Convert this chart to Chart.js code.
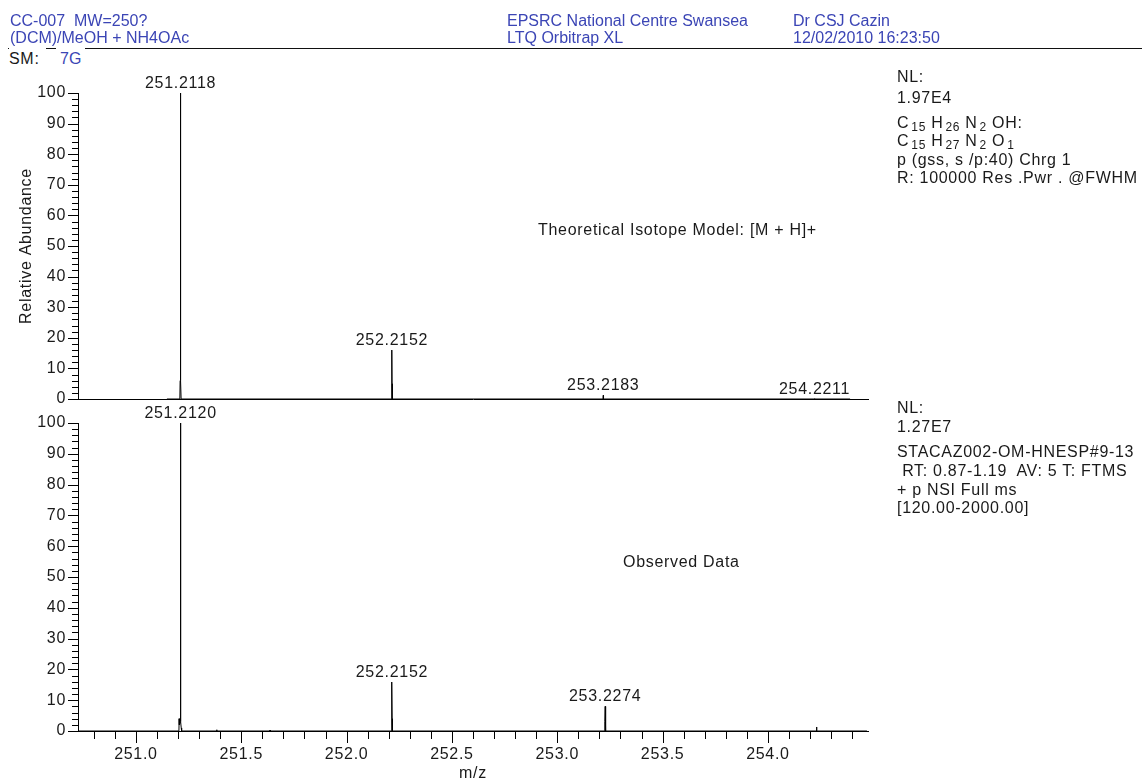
<!DOCTYPE html>
<html>
<head>
<meta charset="utf-8">
<script src="https://cdn.jsdelivr.net/npm/chart.js@4.4.1/dist/chart.umd.min.js"></script>
<style>
  html, body { margin: 0; padding: 0; background: #fff; }
  #page { position: relative; width: 1142px; height: 782px; overflow: hidden;
          font-family: "Liberation Sans", Arial, Helvetica, sans-serif; }
  canvas { position: absolute; left: 0; top: 0; }
  .t { position: absolute; white-space: pre; font-size: 16px; line-height: 16px;
       color: #1a1a1a; letter-spacing: 0.7px; }
  .hd { color: #3b45b5; letter-spacing: 0; }
  .s { font-size: 12px; position: relative; top: 3px; margin-left: 2px; }
  .mask { background: #fff; padding-top: 4px; }
  #rule { position: absolute; left: 8px; top: 48px; width: 1134px; height: 0;
          border-top: 1.5px solid #111; }
</style>
</head>
<body>
<div id="page">
  <canvas id="theo" width="1142" height="782"></canvas>
  <canvas id="obs" width="1142" height="782"></canvas>

  <div class="t hd" style="left:10px;top:13px;">CC-007  MW=250?</div>
  <div class="t hd" style="left:10px;top:30px;">(DCM)/MeOH + NH4OAc</div>
  <div class="t hd" style="left:507px;top:13px;">EPSRC National Centre Swansea</div>
  <div class="t hd" style="left:507px;top:30px;">LTQ Orbitrap XL</div>
  <div class="t hd" style="left:793px;top:13px;">Dr CSJ Cazin</div>
  <div class="t hd" style="left:793px;top:30px;">12/02/2010 16:23:50</div>
  <div id="rule"></div>
  <div class="t mask" style="left:9px;top:47px;padding-right:6px;">SM:</div>
  <div class="t hd mask" style="left:56px;top:47px;padding:4px 4px 0 4px;">7G</div>

  <div class="t" style="left:897px;top:69px;">NL:</div>
  <div class="t" style="left:897px;top:90px;">1.97E4</div>
  <div class="t" style="left:897px;top:115px;">C<span class="s">15</span> H<span class="s">26</span> N<span class="s">2</span> OH:</div>
  <div class="t" style="left:897px;top:133px;">C<span class="s">15</span> H<span class="s">27</span> N<span class="s">2</span> O<span class="s">1</span></div>
  <div class="t" style="left:897px;top:152px;">p (gss, s /p:40) Chrg 1</div>
  <div class="t" style="left:897px;top:170px;">R: 100000 Res .Pwr . @FWHM</div>

  <div class="t" style="left:897px;top:400px;">NL:</div>
  <div class="t" style="left:897px;top:419px;">1.27E7</div>
  <div class="t" style="left:897px;top:444px;">STACAZ002-OM-HNESP#9-13</div>
  <div class="t" style="left:897px;top:463px;"> RT: 0.87-1.19  AV: 5 T: FTMS</div>
  <div class="t" style="left:897px;top:482px;">+ p NSI Full ms</div>
  <div class="t" style="left:897px;top:500px;">[120.00-2000.00]</div>

  <div class="t" style="left:538px;top:222px;">Theoretical Isotope Model: [M + H]+</div>
  <div class="t" style="left:623px;top:554px;">Observed Data</div>
</div>

<script>
// m/z window shared by both panels
const mzMin = 250.725;
const mzMax = 254.475;

// Theoretical isotope profile for [M + H]+ (C15 H27 N2 O1)
const theoMz = [251.1470, 251.2085, 251.2098, 251.2102, 251.2118, 251.2124, 251.2130, 251.2145,
                252.2125, 252.2140, 252.2146, 252.2152, 252.2158, 252.2164, 252.2180,
                253.2170, 253.2183, 253.2196,
                254.2200, 254.2211, 254.2222, 254.3900];
const theoAbund = [0, 0, 6, 32, 100, 32, 6, 0,
                   0, 1, 5, 16.0, 5, 1, 0,
                   0, 1.2, 0,
                   0, 0.1, 0, 0];
const theoPeakMz = [251.2118, 252.2152, 253.2183, 254.2211];
const theoPeakAbund = [100, 16.0, 1.2, 0.1];

// Observed profile spectrum
const obsMz = [250.7300, 251.2040, 251.2052, 251.2062, 251.2112, 251.2117, 251.2120, 251.2123, 251.2128, 251.2150, 251.2170,
               251.3825, 251.3835, 251.3845,
               251.6355, 251.6365, 251.6375,
               252.2120, 252.2135, 252.2142, 252.2152, 252.2162, 252.2170, 252.2185,
               253.2235, 253.2250, 253.2262, 253.2274, 253.2283, 253.2292, 253.2310,
               254.2300, 254.2310, 254.2320,
               254.4700];
const obsAbund = [0, 0, 4.0, 2, 3, 60, 100, 60, 3, 1, 0,
                  0, 0.4, 0,
                  0, 0.3, 0,
                  0, 1, 4, 15.9, 4, 1, 0,
                  0, 1, 3, 8.0, 3, 1, 0,
                  0, 1.3, 0,
                  0];
const obsPeakMz = [251.2120, 252.2152, 253.2274];
const obsPeakAbund = [100, 15.9, 8.0];

// Axis labels
const abundTickLabels = ['0', '10', '20', '30', '40', '50', '60', '70', '80', '90', '100'];
const mzTickLabels = ['251.0', '251.5', '252.0', '252.5', '253.0', '253.5', '254.0'];

const FONT = '"Liberation Sans", Arial, Helvetica, sans-serif';
const INK = '#1a1a1a';

// Canvas text spacing to match the HTML labels
const spacing = {
  id: 'spacing',
  beforeDraw(chart) { chart.ctx.letterSpacing = '0.7px'; }
};

// Major / minor tick marks on both axes
const tickMarks = {
  id: 'tickMarks',
  afterDraw(chart, args, opts) {
    const ctx = chart.ctx;
    ctx.save();
    ctx.strokeStyle = '#000';
    ctx.lineWidth = 1;
    ctx.beginPath();
    const ys = chart.scales.y;
    ys.ticks.forEach(t => {
      const py = Math.round(ys.getPixelForValue(t.value)) + 0.5;
      const len = t.value % 10 === 0 ? 10 : 6;
      ctx.moveTo(ys.right - len, py);
      ctx.lineTo(ys.right, py);
    });
    if (opts.xTicks) {
      const xs = chart.scales.x;
      xs.ticks.forEach(t => {
        const px = Math.round(xs.getPixelForValue(t.value)) + 0.5;
        const major = Math.abs(t.value * 2 - Math.round(t.value * 2)) < 1e-6;
        const len = major ? 12 : 8;
        ctx.moveTo(px, xs.top);
        ctx.lineTo(px, xs.top + len);
      });
    }
    ctx.stroke();
    ctx.restore();
  }
};

// m/z annotations above labelled peaks
const peakLabels = {
  id: 'peakLabels',
  afterDatasetsDraw(chart, args, opts) {
    const ctx = chart.ctx;
    const x = chart.scales.x, y = chart.scales.y;
    ctx.save();
    ctx.font = '16px ' + FONT;
    ctx.fillStyle = INK;
    ctx.textAlign = 'center';
    ctx.textBaseline = 'alphabetic';
    opts.mz.forEach((m, i) => {
      ctx.fillText(m.toFixed(4), x.getPixelForValue(m), y.getPixelForValue(opts.abund[i]) - opts.gap);
    });
    ctx.restore();
  }
};

function points(mz, ab) {
  return mz.map((m, i) => ({ x: m, y: ab[i] }));
}

function makeChart(id, cfg) {
  return new Chart(document.getElementById(id), {
    type: 'line',
    data: {
      datasets: [{
        data: points(cfg.mz, cfg.abund),
        borderColor: '#000',
        borderWidth: 1,
        pointRadius: 0,
        tension: 0,
        fill: false
      }]
    },
    options: {
      responsive: false,
      animation: false,
      devicePixelRatio: 1,
      parsing: false,
      normalized: true,
      layout: { padding: { left: 0, right: 274, top: cfg.top, bottom: cfg.bottom } },
      scales: {
        x: {
          type: 'linear',
          min: mzMin,
          max: mzMax,
          grid: { display: false, drawTicks: false },
          border: { display: true, color: '#000', width: 1 },
          ticks: {
            display: cfg.xLabels,
            stepSize: 0.1,
            includeBounds: false,
            autoSkip: false,
            maxRotation: 0,
            padding: 14,
            color: INK,
            font: { family: FONT, size: 16 },
            callback: v => {
              const s = Number(v).toFixed(1);
              return mzTickLabels.includes(s) ? s : '';
            }
          },
          title: {
            display: cfg.xLabels,
            text: 'm/z',
            color: INK,
            font: { family: FONT, size: 16, lineHeight: 1 },
            padding: { top: 0, bottom: 0 }
          },
          afterFit: s => { s.height = cfg.xHeight; }
        },
        y: {
          type: 'linear',
          min: 0,
          max: 100,
          grid: { display: false, drawTicks: false },
          border: { display: true, color: '#000', width: 1 },
          ticks: {
            stepSize: 2,
            autoSkip: false,
            padding: 12,
            color: INK,
            font: { family: FONT, size: 16 },
            callback: v => abundTickLabels.includes(String(v)) ? String(v) : ''
          },
          title: {
            display: cfg.yTitle,
            text: 'Relative Abundance',
            color: INK,
            font: { family: FONT, size: 16, lineHeight: 1 },
            padding: { top: 19, bottom: 0 }
          },
          afterFit: s => { s.width = 78; }
        }
      },
      plugins: {
        legend: { display: false },
        tooltip: { enabled: false },
        tickMarks: { xTicks: cfg.xLabels },
        peakLabels: { mz: cfg.peakMz, abund: cfg.peakAbund, gap: 5 }
      }
    },
    plugins: [spacing, tickMarks, peakLabels]
  });
}

makeChart('theo', {
  mz: theoMz, abund: theoAbund, peakMz: theoPeakMz, peakAbund: theoPeakAbund,
  top: 93, bottom: 383, xHeight: 0, xLabels: false, yTitle: true
});

makeChart('obs', {
  mz: obsMz, abund: obsAbund, peakMz: obsPeakMz, peakAbund: obsPeakAbund,
  top: 423, bottom: 0, xHeight: 51, xLabels: true, yTitle: false
});
</script>
</body>
</html>
